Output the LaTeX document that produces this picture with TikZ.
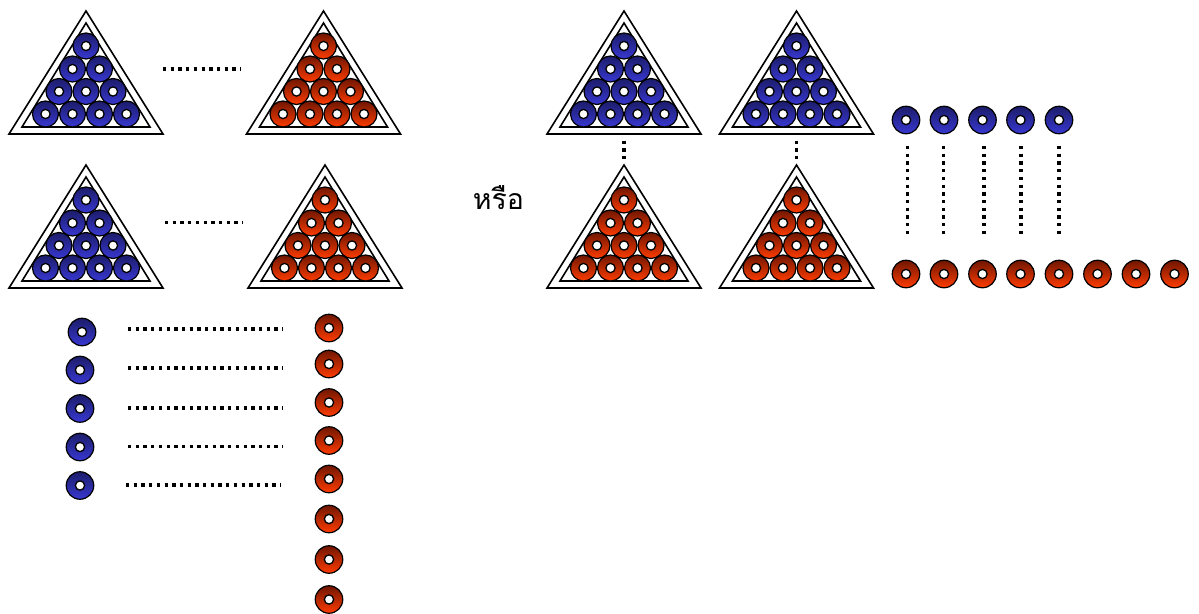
\documentclass[tikz,border=0pt]{standalone}
\usepackage{fontspec}
\newfontfamily\thaifont[Script=Thai]{Loma}
\definecolor{bluetop}{HTML}{1C1C6A}
\definecolor{bluebot}{HTML}{3838D2}
\definecolor{redtop}{HTML}{701600}
\definecolor{redbot}{HTML}{FF3C00}
\tikzset{
  ball/.style={circle, draw=black, line width=1.2pt, minimum size=26pt, inner sep=0pt,
    path picture={\filldraw[fill=white,draw=black,line width=1.3pt] (path picture bounding box.center) circle (4.6pt);}},
  blueball/.style={ball, top color=bluetop, bottom color=bluebot},
  redball/.style={ball, top color=redtop, bottom color=redbot},
  loose/.style={minimum size=27.5pt},
  dots/.style={line width=3.4pt, dash pattern=on 3.3pt off 4.4pt},
  rackline/.style={line width=1.6pt, line join=miter},
}
\newcommand{\rackat}[4]{%
  \draw[rackline] (#2,#3) -- (#2-77,#3+123) -- (#2+77,#3+123) -- cycle;
  \draw[rackline] (#2,#3+12) -- (#2-64,#3+116) -- (#2+64,#3+116) -- cycle;
  \coordinate (#1-top) at (#2,#3);
  \coordinate (#1-bot) at (#2,#3+123);
  \node[#4] (#1-a) at (#2,#3+35) {};
  \node[#4] (#1-b) at (#2-13.5,#3+58) {};
  \node[#4] (#1-c) at (#2+13.5,#3+58) {};
  \node[#4] (#1-d) at (#2-27,#3+80.5) {};
  \node[#4] (#1-e) at (#2,#3+80.5) {};
  \node[#4] (#1-f) at (#2+27,#3+80.5) {};
  \node[#4] (#1-g) at (#2-40.5,#3+103) {};
  \node[#4] (#1-h) at (#2-13.5,#3+103) {};
  \node[#4] (#1-i) at (#2+13.5,#3+103) {};
  \node[#4] (#1-j) at (#2+40.5,#3+103) {};
}
\begin{document}
\begin{tikzpicture}[x=1pt,y=-1pt]
\useasboundingbox (0,0) rectangle (1199,613);
% racks
\rackat{A}{86}{11}{blueball}
\rackat{B}{323.5}{11}{redball}
\rackat{C}{86}{165}{blueball}
\rackat{D}{325}{165}{redball}
\rackat{E}{624}{11}{blueball}
\rackat{F}{796.5}{11}{blueball}
\rackat{G}{624}{165}{redball}
\rackat{H}{796.5}{165}{redball}
% dotted between left racks
\coordinate (d1a) at (163,69);  \coordinate (d1b) at (241,69);
\coordinate (d2a) at (165,222.5); \coordinate (d2b) at (243,222.5);
\draw[dots] (d1a) -- (d1b);
\draw[dots] (d2a) -- (d2b);
% vertical dotted between right racks
\draw[dots] ([yshift=-6.5pt]E-bot) -- ([yshift=6.5pt]G-top);
\draw[dots] ([yshift=-6.5pt]F-bot) -- ([yshift=6.5pt]H-top);
% Thai word
\node[font=\thaifont\fontsize{28.5}{32}\selectfont, inner sep=0pt] (or) at (498.5,198) {หรือ};
% loose balls bottom-left
\foreach \i/\x/\y in {1/82/332, 2/80/370, 3/80/408.5, 4/80/447, 5/80/485.5}
  \node[blueball,loose] (lb\i) at (\x,\y) {};
\foreach \i/\y in {1/328, 2/364, 3/402.5, 4/440.5, 5/479, 6/519, 7/559.5, 8/599.5}
  \node[redball,loose] (lr\i) at (329,\y) {};
\foreach \i/\xa/\xb/\y in {1/128/283/329, 2/128/283/368, 3/128/283/408, 4/128/283/446.5, 5/126/281/485}{
  \coordinate (hs\i) at (\xa,\y); \coordinate (he\i) at (\xb,\y);
  \draw[dots] (hs\i) -- (he\i);
}
% right: blue and red rows
\foreach \i/\x in {1/906, 2/944, 3/982.5, 4/1020.5, 5/1059}
  \node[blueball,loose] (rb\i) at (\x,120) {};
\foreach \i/\x in {1/906, 2/944, 3/982.5, 4/1020.5, 5/1059, 6/1097.5, 7/1136, 8/1174.5}
  \node[redball,loose] (rr\i) at (\x,274) {};
\foreach \i/\x in {1/907.5, 2/943.5, 3/984, 4/1021, 5/1059}{
  \coordinate (vs\i) at (\x,146); \coordinate (ve\i) at (\x,238);
  \draw[dots] (vs\i) -- (ve\i);
}
\end{tikzpicture}
\end{document}
